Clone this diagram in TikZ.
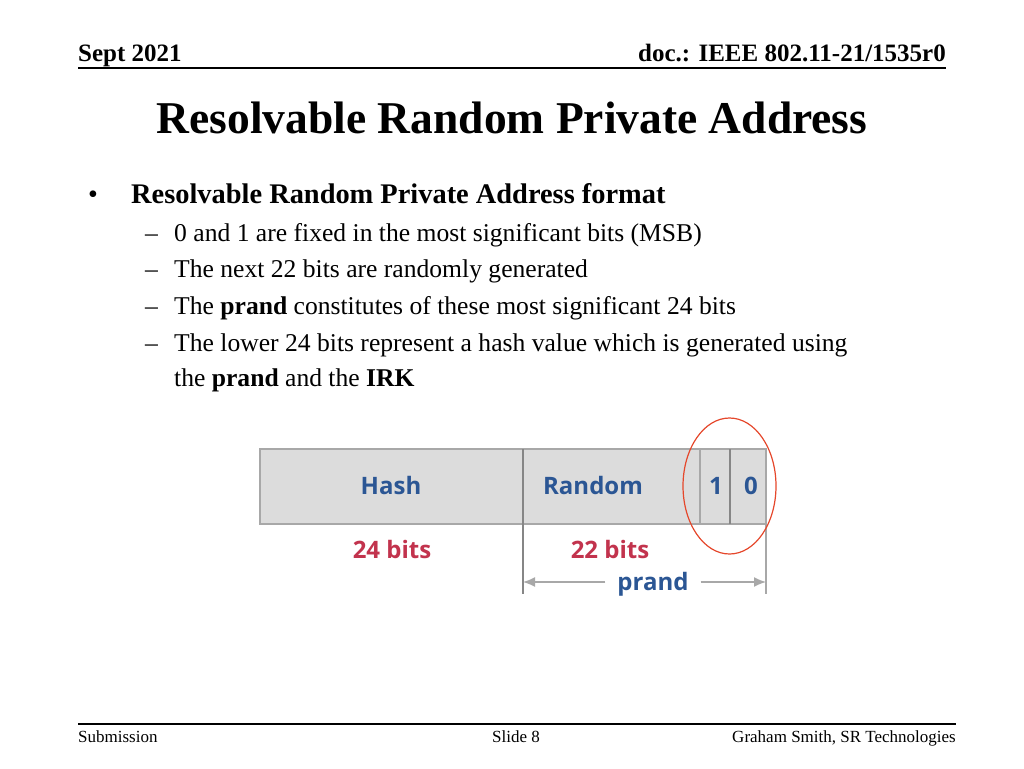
\documentclass[tikz,border=0pt]{standalone}
\usepackage{fontspec}
\setmainfont{Liberation Serif}
\newfontfamily\diagfont{Open Sans}
\usetikzlibrary{arrows.meta}
\definecolor{cellgray}{HTML}{DCDCDC}
\definecolor{edgegray}{HTML}{A8A8A8}
\definecolor{labelblue}{HTML}{2B5694}
\definecolor{bitsred}{HTML}{C2334D}
\definecolor{ringred}{HTML}{E5472B}

\begin{document}
\begin{tikzpicture}[x=1pt, y=-1pt,
	hdr/.style={font=\fontsize{25}{27}\selectfont\bfseries, inner sep=0pt},
	foot/.style={font=\fontsize{17}{19}\selectfont, inner sep=0pt},
	item/.style={font=\fontsize{25.6}{28}\selectfont, inner sep=0pt, anchor=base west},
	field/.style={font=\diagfont\bfseries\fontsize{24}{26}\selectfont, text=labelblue, inner sep=0pt, anchor=base},
	bits/.style={font=\diagfont\bfseries\fontsize{24}{26}\selectfont, text=bitsred, inner sep=0pt, anchor=base},
	spanarrow/.style={edgegray, line width=1.5, -{Latex[length=12pt, width=10pt]}}]
	\useasboundingbox (0,0) rectangle (1024,768);

	% header and footer
	\node[hdr, anchor=base west] (date) at (78,62) {Sept 2021};
	\node[hdr, anchor=base east] (doc) at (946,62) {doc.: IEEE 802.11-21/1535r0};
	\draw [line width=1.5] (78,68) -- (946,68);
	\draw [line width=1.5] (78,724) -- (956,724);
	\node[foot, anchor=base west] (sub) at (78,742) {Submission};
	\node[foot, anchor=base] (slide) at (516,742) {Slide 8};
	\node[foot, anchor=base east] (auth) at (956,742) {Graham Smith, SR Technologies};

	% title and bullets
	\node[anchor=base, inner sep=0pt, font=\fontsize{45.5}{48}\selectfont\bfseries] (title) at (512,133) {Resolvable Random Private Address};
	\node[item, font=\fontsize{28}{30}\selectfont] (dot) at (88,203) {•};
	\node[item, font=\fontsize{28.4}{30}\selectfont\bfseries] (head) at (131,203) {Resolvable Random Private Address format};
	\foreach \y/\txt [count=\i] in {241/{0 and 1 are fixed in the most significant bits (MSB)},
		277/{The next 22 bits are randomly generated},
		314/{The \textbf{prand} constitutes of these most significant 24 bits},
		351/{The lower 24 bits represent a hash value which is generated using}} {
		\node[item] (dash\i) at (145,\y) {–};
		\node[item] (line\i) at (174,\y) {\txt};
	}
	\node[item] (line5) at (174,386) {the \textbf{prand} and the \textbf{IRK}};

	% address fields
	\draw [fill=cellgray, draw=edgegray, line width=1.5] (260,449) rectangle (766,524);
	\draw [edgegray, line width=1.5] (700,449) -- (700,524);
	\draw [edgegray!80!black, line width=1.5] (730,449) -- (730,524);
	\draw [edgegray!80!black, line width=1.5] (523,449) -- (523,594);
	\draw [edgegray, line width=1.5] (766,524) -- (766,594);

	\node[field] (hash) at (391,494) {Hash};
	\node[field] (random) at (593,494) {Random};
	\node[field] (one) at (716,494) {1};
	\node[field] (zero) at (751,494) {0};
	\node[bits] (hashbits) at (392,558) {24 bits};
	\node[bits] (randbits) at (610,558) {22 bits};

	% prand span
	\coordinate (spanL) at (523,582);
	\coordinate (spanR) at (766,582);
	\node[field, anchor=center, inner xsep=12pt, inner ysep=2pt] (prand) at (653,584) {prand};
	\draw [spanarrow] (prand.west |- spanL) -- (spanL);
	\draw [spanarrow] (prand.east |- spanR) -- (spanR);

	% MSB ring
	\draw [ringred, line width=1.2] (729.5,486) ellipse [x radius=46.5, y radius=68];
\end{tikzpicture}
\end{document}
